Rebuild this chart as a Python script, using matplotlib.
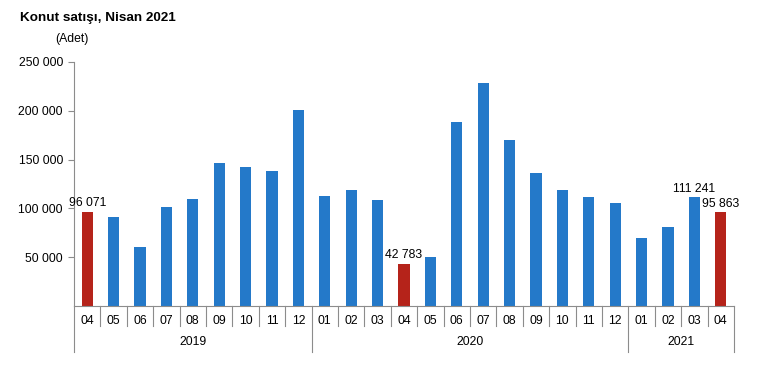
import matplotlib
matplotlib.use("Agg")
import matplotlib.pyplot as plt
import matplotlib.transforms as mtransforms

plt.rcParams['font.family'] = ['Liberation Sans', 'DejaVu Sans']

# veri
months = ["04", "05", "06", "07", "08", "09", "10", "11", "12",
          "01", "02", "03", "04", "05", "06", "07", "08", "09", "10", "11", "12",
          "01", "02", "03", "04"]
years = ["2019", "2020", "2021"]
year_counts = [9, 12, 4]
sales = [96071, 91100, 60500, 101300, 109500, 146200, 142100, 138000, 201300,
         112600, 118700, 108500, 42783, 50400, 189000, 228900, 169700, 136000,
         118700, 111500, 105400, 69700, 80900, 111241, 95863]
highlight = [0, 12, 24]          # nisan aylari
labelled = [0, 12, 23, 24]

blue = "#2479C9"
red = "#B5231A"
grey = "#8C8C8C"


def fmt(v):
    return "{:,}".format(v).replace(",", " ")


fig = plt.figure(figsize=(7.66, 3.71), dpi=100)
ax = fig.add_axes([74 / 766, 65 / 371, 660 / 766, 244 / 371])

x = list(range(len(sales)))
colors = [red if i in highlight else blue for i in x]
ax.bar(x, sales, width=0.42, color=colors, zorder=2)

for i in labelled:
    ax.text(i, sales[i] + 3000, fmt(sales[i]), ha="center", va="bottom", fontsize=8.8)

ax.set_xlim(-0.5, len(sales) - 0.5)
ax.set_ylim(0, 250000)
ax.set_yticks([50000, 100000, 150000, 200000, 250000])
ax.set_yticklabels([fmt(v) for v in [50000, 100000, 150000, 200000, 250000]], fontsize=8.8)
ax.tick_params(axis="y", length=4, color=grey, pad=4)
ax.set_xticks([])

for s in ["top", "right"]:
    ax.spines[s].set_visible(False)
ax.spines["left"].set_color(grey)
ax.spines["bottom"].set_color(grey)

trans = mtransforms.blended_transform_factory(ax.transData, ax.transAxes)
short = -20 / 244
long_ = -46 / 244

# ay etiketleri ve ayiricilar
for i, m in enumerate(months):
    ax.text(i, -15 / 244, m, transform=trans, ha="center", va="center", fontsize=8.8)

bounds = [-0.5]
for c in year_counts:
    bounds.append(bounds[-1] + c)
for k in range(len(sales) + 1):
    xb = k - 0.5
    y0 = long_ if xb in bounds else short
    ax.plot([xb, xb], [0, y0], transform=trans, color=grey, lw=0.8, clip_on=False)

for j, yr in enumerate(years):
    xc = (bounds[j] + bounds[j + 1]) / 2
    ax.text(xc, -36 / 244, yr, transform=trans, ha="center", va="center", fontsize=8.8)

fig.text(20 / 766, 1 - 18 / 371, "Konut satışı, Nisan 2021", fontsize=9.7, fontweight="bold",
         ha="left", va="center")
fig.text(55 / 766, 1 - 39 / 371, "(Adet)", fontsize=8.8, ha="left", va="center")

fig.savefig("out.png", dpi=100)
